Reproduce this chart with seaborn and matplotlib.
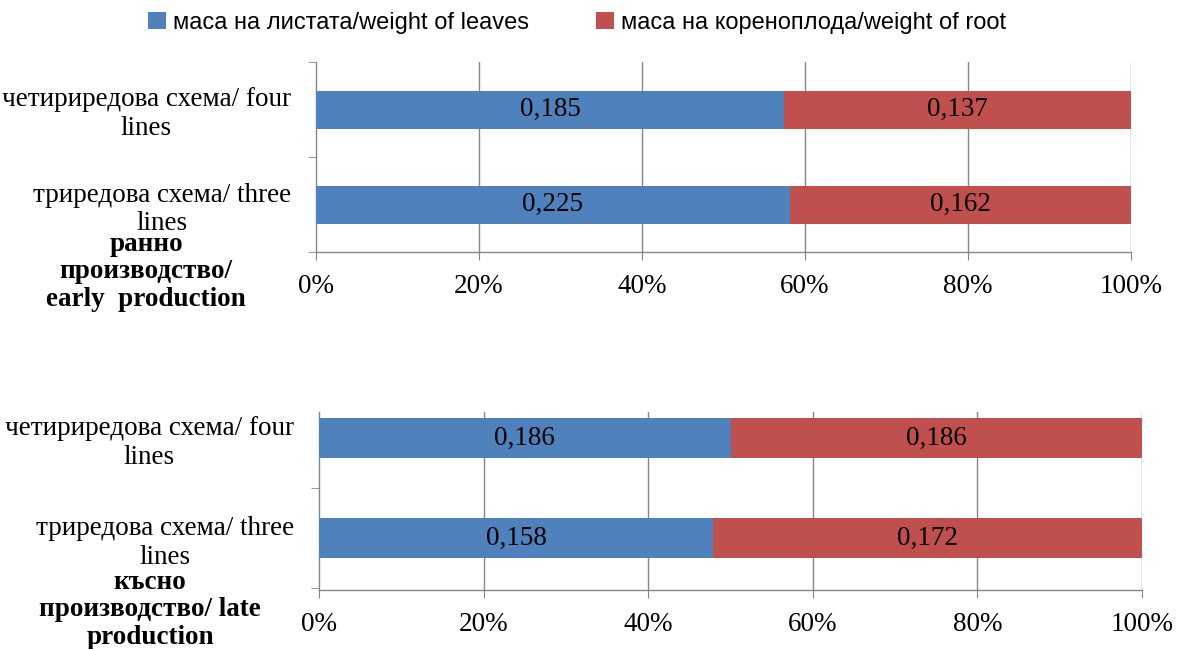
import matplotlib
matplotlib.use("Agg")
import matplotlib.pyplot as plt
from matplotlib.patches import Patch
import seaborn as sns
import numpy as np
import pandas as pd

# ---- data ----
categories = ["четириредова схема/ four\nlines", "триредова схема/ three\nlines"]
leaves_early = [0.185, 0.225]
root_early = [0.137, 0.162]
leaves_late = [0.186, 0.158]
root_late = [0.186, 0.172]
series_names = ["маса на листата/weight of leaves", "маса на кореноплода/weight of root"]
group_labels = ["ранно\nпроизводство/\nearly  production", "късно\nпроизводство/ late\nproduction"]
xticks = [0, 20, 40, 60, 80, 100]
xtick_labels = ["0%", "20%", "40%", "60%", "80%", "100%"]

BLUE = "#4F81BD"
RED = "#C0504D"
GRID = "#868686"

sns.set_style("white")
plt.rcParams["font.family"] = ["Liberation Serif", "DejaVu Serif"]
plt.rcParams["text.color"] = "black"
plt.rcParams["xtick.labelcolor"] = "black"
plt.rcParams["ytick.labelcolor"] = "black"

FS = 19.5

fig = plt.figure(figsize=(11.78, 6.49), dpi=100)

panels = [
    dict(leaves=leaves_early, root=root_early,
         rect=[316/1178, 1-252/649, 815/1178, 190/649], ylim=(1.5, -0.5),
         glabel=group_labels[0], gx=146/1178, gy=1-272/649),
    dict(leaves=leaves_late, root=root_late,
         rect=[319/1178, 1-590/649, 823/1178, 178/649], ylim=(1.52, -0.26),
         glabel=group_labels[1], gx=150/1178, gy=1-610/649),
]

for p in panels:
    ax = fig.add_axes(p["rect"])
    leaves = np.array(p["leaves"])
    root = np.array(p["root"])
    total = leaves + root
    leaf_pct = leaves / total * 100
    full = np.full(len(categories), 100.0)
    df = pd.DataFrame({"cat": categories, "full": full, "leaf": leaf_pct})
    ax.set_axisbelow(True)
    for xv in xticks[1:]:
        ax.axvline(xv, color=GRID, lw=1, zorder=0)
    sns.barplot(data=df, x="full", y="cat", color=RED, width=0.4, saturation=1,
                linewidth=0, ax=ax, zorder=2)
    sns.barplot(data=df, x="leaf", y="cat", color=BLUE, width=0.4, saturation=1,
                linewidth=0, ax=ax, zorder=3)
    for i in range(len(categories)):
        ax.text(leaf_pct[i] / 2, i, f"{leaves[i]:.3f}".replace(".", ","),
                ha="center", va="center", fontsize=FS, color="black", zorder=5)
        ax.text((leaf_pct[i] + 100) / 2, i, f"{root[i]:.3f}".replace(".", ","),
                ha="center", va="center", fontsize=FS, color="black", zorder=5)
    ax.set_xticks(xticks)
    ax.set_xticklabels(xtick_labels, fontsize=FS)
    ax.set_xlabel("")
    ax.set_ylabel("")
    ax.set_yticks(range(len(categories)))
    ax.set_yticklabels(categories, fontsize=FS)
    for lab in ax.get_yticklabels():
        lab.set_multialignment("center")
        lab.set_linespacing(1.2)
    ax.set_yticks([-0.5, 0.5, 1.5], minor=True)
    ax.set_xlim(0, 100)
    ax.set_ylim(*p["ylim"])
    ax.tick_params(axis="y", which="major", length=0, pad=18)
    ax.tick_params(axis="y", which="minor", length=6, color=GRID, direction="out", left=True)
    ax.tick_params(axis="x", which="major", length=6, color=GRID, direction="out", bottom=True, pad=10)
    for s in ["top", "right"]:
        ax.spines[s].set_visible(False)
    for s in ["left", "bottom"]:
        ax.spines[s].set_color(GRID)
        ax.spines[s].set_linewidth(1)
    fig.text(p["gx"], p["gy"], p["glabel"], ha="center", va="center",
             fontsize=FS, fontweight="bold", multialignment="center", linespacing=1.15)

handles = [Patch(facecolor=BLUE, edgecolor="none"), Patch(facecolor=RED, edgecolor="none")]
fig.legend(handles, series_names, loc="center", bbox_to_anchor=(577/1178, 1-23/649),
           ncol=2, frameon=False, prop={"family": "Liberation Sans", "size": 17},
           handlelength=0.75, handleheight=0.75, handletextpad=0.3, columnspacing=2.85)

fig.savefig("out.png", dpi=100)
